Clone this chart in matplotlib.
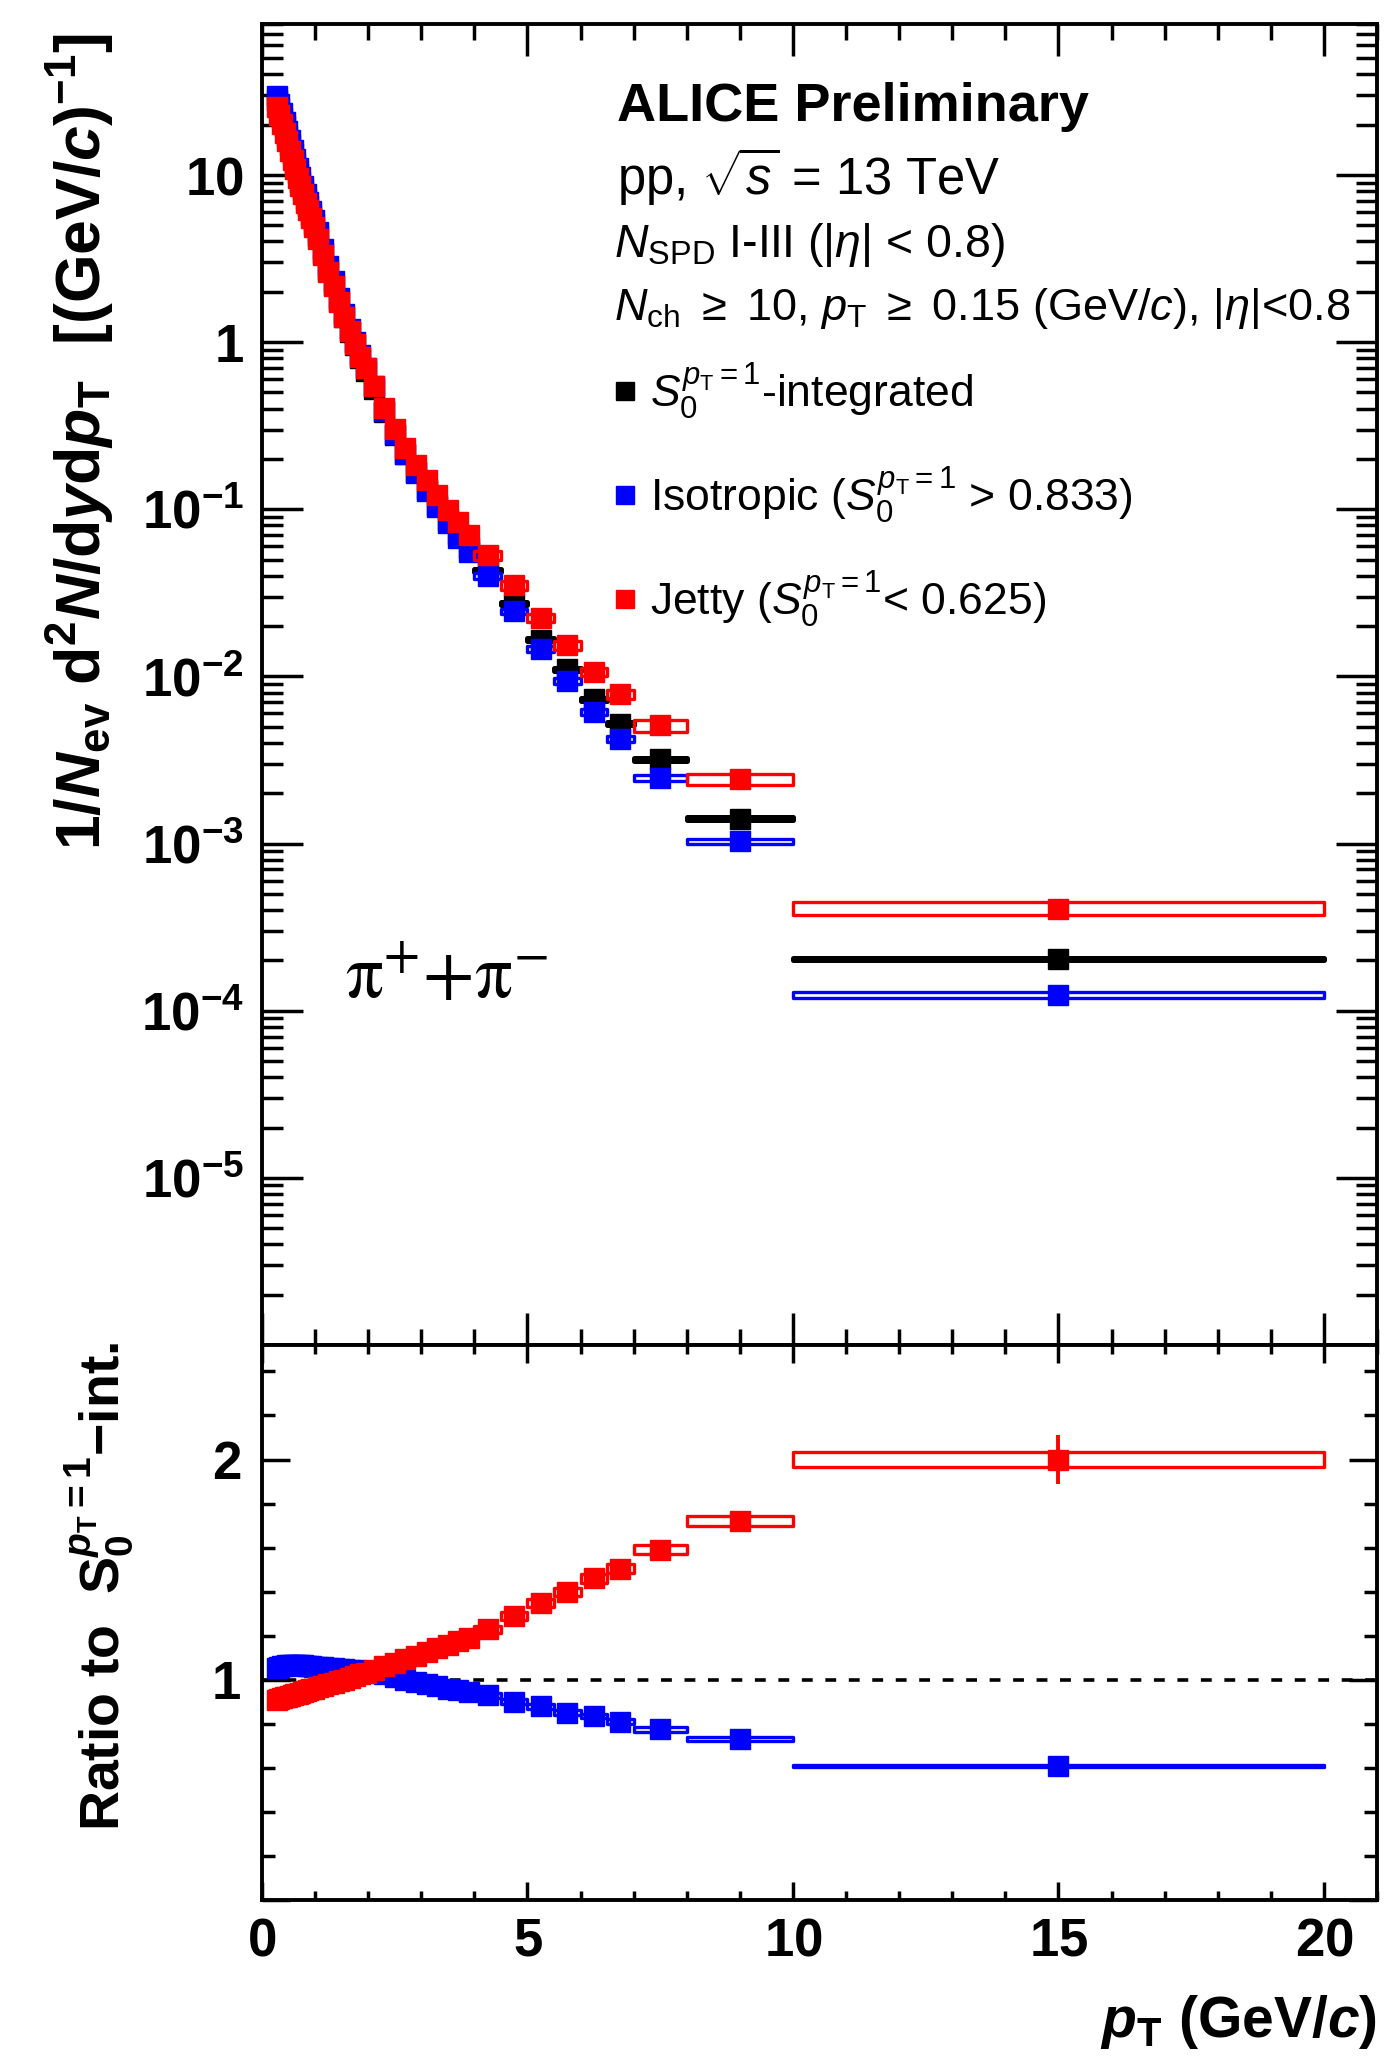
import numpy as np
import matplotlib
matplotlib.use('Agg')
import matplotlib.pyplot as plt
from matplotlib import ticker
from matplotlib.patches import Rectangle
from matplotlib.collections import PatchCollection
from matplotlib.lines import Line2D

plt.rcParams.update({
    'font.family': ['Liberation Sans', 'DejaVu Sans'],
    'mathtext.fontset': 'custom',
    'mathtext.rm': 'Liberation Sans',
    'mathtext.it': 'Liberation Sans:italic',
    'mathtext.bf': 'Liberation Sans:bold',
    'mathtext.bfit': 'Liberation Sans:italic:bold',
    'mathtext.sf': 'Liberation Sans',
    'axes.linewidth': 2.8,
})

# pT binning (GeV/c)
pt_edges = [0.25, 0.30, 0.35, 0.40, 0.45, 0.50, 0.55, 0.60, 0.65, 0.70, 0.75,
             0.80, 0.85, 0.90, 0.95, 1.00, 1.1, 1.2, 1.3, 1.4, 1.5, 1.6, 1.7,
             1.8, 1.9, 2.0, 2.2, 2.4, 2.6, 2.8, 3.0, 3.2, 3.4, 3.6, 3.8, 4.0,
             4.5, 5.0, 5.5, 6.0, 6.5, 7.0, 8.0, 10.0, 20.0]

# S0-integrated pi+ + pi- yield
yield_int = [28, 25, 22, 19.5, 17.2, 15.1, 13.3, 11.7, 10.3, 9.1, 8.1, 7.2,
             6.5, 5.75, 5.1,
             4.3, 3.4, 2.7, 2.2, 1.76, 1.41, 1.15, 0.955, 0.80, 0.676,
             0.525, 0.38, 0.28, 0.214, 0.166, 0.132, 0.106, 0.086, 0.071, 0.059,
             0.043, 0.0272, 0.0166, 0.011, 0.0073, 0.0052,
             0.0032, 0.00141, 0.000204]

# ratios to S0-integrated
ratio_jetty = [0.91, 0.913, 0.916, 0.92, 0.923, 0.927, 0.93, 0.934, 0.937,
               0.941, 0.945, 0.948, 0.952, 0.956, 0.96,
               0.965, 0.972, 0.979, 0.986, 0.993, 1.0, 1.008, 1.016, 1.024, 1.032,
               1.045, 1.062, 1.078, 1.094, 1.11, 1.126, 1.142, 1.158, 1.174, 1.19,
               1.23, 1.29, 1.35, 1.40, 1.46, 1.505,
               1.59, 1.72, 2.0]
ratio_iso = [1.055, 1.058, 1.061, 1.063, 1.065, 1.066, 1.067, 1.067, 1.067,
             1.066, 1.065, 1.064, 1.063, 1.062, 1.06,
             1.058, 1.056, 1.054, 1.052, 1.05, 1.048, 1.046, 1.044, 1.042, 1.04,
             1.034, 1.024, 1.012, 1.0, 0.99, 0.98, 0.97, 0.96, 0.952, 0.944,
             0.93, 0.90, 0.88, 0.85, 0.835, 0.81,
             0.775, 0.73, 0.61]

# absolute statistical errors on the ratios
stat_jetty = [0.002] * 35 + [0.004, 0.005, 0.006, 0.008, 0.01, 0.012,
                             0.016, 0.025, 0.11]
stat_iso = [0.002] * 35 + [0.003, 0.004, 0.005, 0.006, 0.007, 0.008,
                           0.01, 0.014, 0.04]

# relative systematic uncertainties
syst_int = [0.02] * 44
syst_iso = [0.04] * 44
syst_jetty = [0.06] * 41 + [0.08, 0.08, 0.09]
syst_ratio_jetty = [0.013] * 43 + [0.017]
syst_ratio_iso = [0.013] * 43 + [0.007]

edges = np.array(pt_edges)
pt = 0.5 * (edges[:-1] + edges[1:])
lo, hi = edges[:-1], edges[1:]
y_int = np.array(yield_int)
r_jet = np.array(ratio_jetty)
r_iso = np.array(ratio_iso)
y_jet = y_int * r_jet
y_iso = y_int * r_iso


def draw_points(ax, y, err, syst, color, z, box_lw=2.4):
    y = np.asarray(y)
    syst = np.asarray(syst)
    boxes = [Rectangle((a, v * (1 - s)), b - a, 2 * v * s)
             for a, b, v, s in zip(lo, hi, y, syst)]
    ax.add_collection(PatchCollection(boxes, facecolors='none', edgecolors=color,
                                      linewidths=box_lw, zorder=z))
    ax.errorbar(pt, y, yerr=err, fmt='s', color=color, ms=14, mew=1,
                elinewidth=2.8, capsize=0, zorder=z + 0.5)


fig = plt.figure(figsize=(13.87, 20.64), dpi=100)
W, H = 1387.0, 2064.0
ax1 = fig.add_axes([262 / W, 1 - 1345 / H, 1115 / W, 1321 / H])
ax2 = fig.add_axes([262 / W, 1 - 1900 / H, 1115 / W, 555 / H])

# spectra
draw_points(ax1, y_int, None, syst_int, 'black', 3, box_lw=3.6)
draw_points(ax1, y_iso, None, syst_iso, 'blue', 4)
draw_points(ax1, y_jet, None, syst_jetty, 'red', 5)

ax1.set_yscale('log')
ax1.set_xlim(0, 21)
ax1.set_ylim(1e-6, 80)


def log_label(v, pos):
    e = int(round(np.log10(v)))
    if e == 1:
        return r'$\mathbf{10}$'
    if e == 0:
        return r'$\mathbf{1}$'
    if -5 <= e < 0:
        return r'$\mathbf{10^{%d}}$' % e
    return ''


ax1.yaxis.set_major_locator(ticker.LogLocator(base=10, numticks=20))
ax1.yaxis.set_minor_locator(ticker.LogLocator(base=10, subs=np.arange(2, 10), numticks=20))
ax1.yaxis.set_major_formatter(ticker.FuncFormatter(log_label))
ax1.yaxis.set_minor_formatter(ticker.NullFormatter())
ax1.xaxis.set_major_locator(ticker.MultipleLocator(5))
ax1.xaxis.set_minor_locator(ticker.MultipleLocator(1))
ax1.tick_params(which='both', direction='in', top=True, right=True, width=2.5,
                labelbottom=False, labelsize=38, pad=13)
ax1.tick_params(axis='y', which='major', length=29.5)
ax1.tick_params(axis='y', which='minor', length=15)
ax1.tick_params(axis='x', which='major', length=23)
ax1.tick_params(axis='x', which='minor', length=11.5)

# header text
ax1.text(0.318, 0.9266, 'ALICE Preliminary', transform=ax1.transAxes,
         fontsize=39, fontweight='bold')
ax1.text(0.318, 0.8706, r'pp, $\sqrt{s}$ = 13 TeV', transform=ax1.transAxes,
         fontsize=36.5)
ax1.text(0.316, 0.8236, r'$N_{\mathrm{SPD}}$ I-III (|$\eta$| < 0.8)',
         transform=ax1.transAxes, fontsize=33.5)
ax1.text(0.316, 0.7759,
         r'$N_{\mathrm{ch}}$ $\geq$ 10, $p_{\mathrm{T}}$ $\geq$ 0.15 (GeV/$c$), |$\eta$|<0.8',
         transform=ax1.transAxes, fontsize=32.5)

s0 = r'$S_{0}^{p_{\mathrm{T}}=1}$'
handles = [Line2D([], [], marker='s', ls='none', color=c, ms=13)
           for c in ('black', 'blue', 'red')]
labels = [s0 + '-integrated', 'Isotropic (' + s0 + ' > 0.833)',
          'Jetty (' + s0 + '< 0.625)']
ax1.legend(handles, labels, loc='upper left', bbox_to_anchor=(0.316, 0.745),
           frameon=False, fontsize=32, handlelength=0.5, handletextpad=0.3,
           labelspacing=1.0, borderpad=0, borderaxespad=0)

ax1.text(0.165, 0.277, r'$\mathrm{\pi}^{+}\mathrm{+}\mathrm{\pi}^{-}$',
         transform=ax1.transAxes, fontsize=54, ha='center', va='center',
         math_fontfamily='stix')

# ratios
ax2.axhline(1.0, color='black', lw=2.6, ls=(0, (3, 3.5)), zorder=2)
draw_points(ax2, r_iso, stat_iso, syst_ratio_iso, 'blue', 4)
draw_points(ax2, r_jet, stat_jetty, syst_ratio_jetty, 'red', 5)

ax2.set_xlim(0, 21)
ax2.set_ylim(0.0, 2.52)
ax2.xaxis.set_major_locator(ticker.MultipleLocator(5))
ax2.xaxis.set_minor_locator(ticker.MultipleLocator(1))
ax2.yaxis.set_major_locator(ticker.MultipleLocator(1))
ax2.yaxis.set_minor_locator(ticker.MultipleLocator(0.2))
ax2.xaxis.set_major_formatter(ticker.FuncFormatter(
    lambda v, p: r'$\mathbf{%d}$' % v if 0 <= v <= 20 else ''))
ax2.yaxis.set_major_formatter(ticker.FuncFormatter(
    lambda v, p: r'$\mathbf{%d}$' % v if v in (1, 2) else ''))
ax2.tick_params(which='both', direction='in', top=True, right=True, width=2.5,
                labelsize=38)
ax2.tick_params(axis='y', which='major', length=20, pad=15)
ax2.tick_params(axis='y', which='minor', length=9.4)
ax2.tick_params(axis='x', which='major', length=13, pad=12)
ax2.tick_params(axis='x', which='minor', length=6.5)

# axis titles
fig.text(80 / W, 1 - 33 / H,
         r'$\mathbf{1/}\mathbfit{N}_{\mathbf{ev}}\ \mathbf{d}^{\mathbf{2}}\mathbfit{N}'
         r'\mathbf{/d}\mathbfit{y}\mathbf{d}\mathbfit{p}_{\mathbf{T}}\ \ '
         r'\mathbf{[(GeV/}\mathbfit{c}\mathbf{)}^{\mathbf{-1}}\mathbf{]}$',
         rotation=90, ha='center', va='top', fontsize=45)
fig.text(99 / W, 1 - 1342 / H,
         r'$\mathbf{Ratio\ to\ \ S}_{\mathbf{0}}^{\mathbfit{p}_{\mathbf{T}}\mathbf{=1}}'
         r'\mathbf{-int.}$',
         rotation=90, ha='center', va='top', fontsize=40)
fig.text(1377 / W, 1 - 2022 / H,
         r'$\mathbfit{p}_{\mathbf{T}}\ \mathbf{(GeV/}\mathbfit{c}\mathbf{)}$',
         ha='right', va='center', fontsize=41)

fig.savefig('out.png', dpi=100)
